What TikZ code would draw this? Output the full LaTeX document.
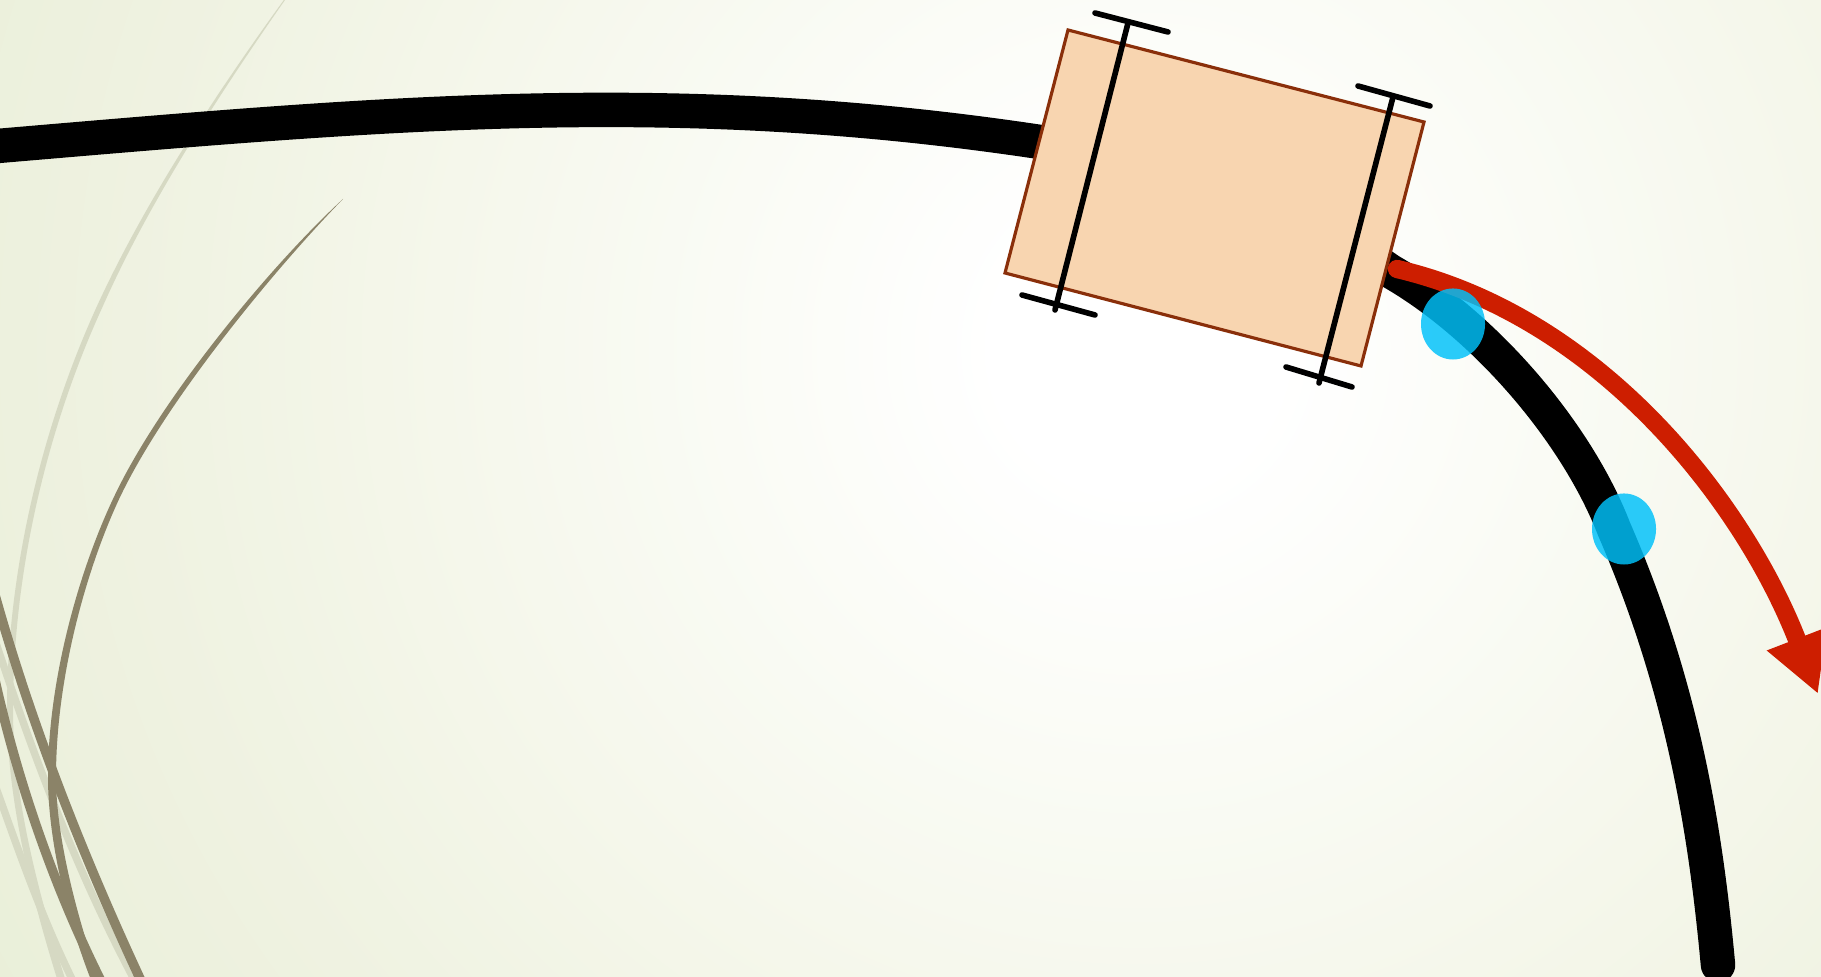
\documentclass[tikz,border=0pt]{standalone}
\usepackage{xcolor}
\usetikzlibrary{arrows.meta,shapes.geometric}
\definecolor{strandlight}{RGB}{214,217,195}
\definecolor{stranddark}{RGB}{139,131,104}
\definecolor{carfill}{RGB}{248,213,176}
\definecolor{caredge}{RGB}{138,47,10}
\definecolor{pathred}{RGB}{205,30,0}
\definecolor{sensorblue}{RGB}{0,193,250}
\definecolor{glowa}{RGB}{251,252,247}
\definecolor{glowb}{RGB}{245,247,235}
\definecolor{glowc}{RGB}{239,242,225}
\definecolor{glowd}{RGB}{233,239,216}
\pgfdeclareradialshading{bgglow}{\pgfpoint{0bp}{0bp}}{%
  color(0bp)=(white);
  color(2.5bp)=(white);
  color(6.5bp)=(glowa);
  color(12.5bp)=(glowb);
  color(18bp)=(glowc);
  color(24bp)=(glowd);
  color(50bp)=(glowd)}

\begin{document}
\begin{tikzpicture}[
  x=0.01cm,y=-0.01cm,
  lightstrand/.style={fill=strandlight},
  darkstrand/.style={fill=stranddark},
  lightline/.style={draw=strandlight,line width=2.1pt},
  darkline/.style={draw=stranddark,line width=2.7pt},
  road/.style={draw=black,line width=9.8pt,line cap=round},
  redpath/.style={draw=pathred,line width=5.2pt,line cap=round,
    -{Triangle[length=16.8pt,width=17pt]}},
  carbody/.style={draw=caredge,line width=0.9pt,fill=carfill},
  axle/.style={draw=black,line width=1.6pt,line cap=round},
  sensor/.style={ellipse,fill=sensorblue,fill opacity=0.83,inner sep=0pt,
    minimum width=0.64cm,minimum height=0.71cm}
]
\useasboundingbox (0,0) rectangle (1821,977);
\clip (0,0) rectangle (1821,977);
\shade[shading=bgglow] (1138-1400,348-1400) rectangle (1138+1400,348+1400);

\fill[lightstrand] (287.5,-5) .. controls (227,78) and (148.5,194) .. (97.5,305) .. controls (47.5,414) and (7,560) .. (7,710) .. controls (7,790) and (26,880) .. (59,985)
  -- (67,985) .. controls (34,880) and (13,790) .. (13,710) .. controls (13,560) and (52.5,416) .. (102.5,307) .. controls (151.5,196) and (229,80) .. (288.5,-5) -- cycle;
\draw[lightline] (-5,640) .. controls (25,730) and (70,860) .. (137,985);
\draw[lightline] (-5,785) .. controls (15,840) and (40,915) .. (75,985);

\draw[darkline] (-5,595) .. controls (30,720) and (80,850) .. (143,985);
\draw[darkline] (-5,680) .. controls (15,770) and (50,880) .. (103,985);
\fill[darkstrand] (343,199) .. controls (268,268) and (159.5,400.8) .. (114.5,495.8) .. controls (79,570) and (48,680) .. (48,777) .. controls (48,845) and (70,928) .. (93,985)
  -- (101,985) .. controls (79,924) and (56,840) .. (56,777) .. controls (56,680) and (85,572) .. (119.5,498.2) .. controls (164.5,403.2) and (272,272) .. (343,199) -- cycle;

\draw[road] (-20,147.5) .. controls (380,113.5) and (667,86) .. (1040,142)
  .. controls (1200,166) and (1320,222) .. (1390,271)
  .. controls (1485,325) and (1577,433) .. (1614,529)
  .. controls (1684,690) and (1706,835) .. (1718,965);

\coordinate (bodyTL) at (1068,30);
\coordinate (bodyTR) at (1424,122);
\coordinate (bodyBR) at (1361,366);
\coordinate (bodyBL) at (1005,273);
\coordinate (axleAtop) at (1128,23);
\coordinate (axleAbot) at (1055,310);
\coordinate (axleBtop) at (1393,97);
\coordinate (axleBbot) at (1319,383);
\coordinate (wheelAa) at (1095,13);
\coordinate (wheelAb) at (1168,32);
\coordinate (wheelBa) at (1022,295);
\coordinate (wheelBb) at (1095,315);
\coordinate (wheelCa) at (1358,86);
\coordinate (wheelCb) at (1430,106);
\coordinate (wheelDa) at (1286,367);
\coordinate (wheelDb) at (1352,387);

\draw[carbody] (bodyTL) -- (bodyTR) -- (bodyBR) -- (bodyBL) -- cycle;
\draw[axle] (axleAtop) -- (axleAbot);
\draw[axle] (axleBtop) -- (axleBbot);
\draw[axle] (wheelAa) -- (wheelAb);
\draw[axle] (wheelBa) -- (wheelBb);
\draw[axle] (wheelCa) -- (wheelCb);
\draw[axle] (wheelDa) -- (wheelDb);

\draw[redpath] (1397,269) .. controls (1602,317) and (1745,505) .. (1818,694);

\node[sensor] (sensorA) at (1453,324) {};
\node[sensor] (sensorB) at (1624,529) {};
\end{tikzpicture}
\end{document}
